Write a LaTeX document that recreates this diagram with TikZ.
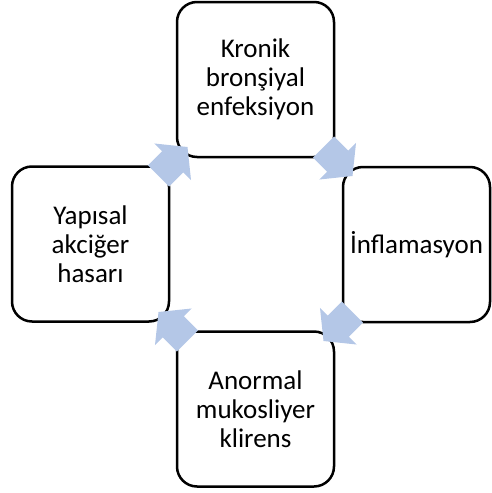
\documentclass[tikz,border=0pt]{standalone}
\usepackage{fontspec}
\setmainfont{Carlito}
\definecolor{arrowblue}{RGB}{180,199,231}
\begin{document}
\begin{tikzpicture}[x=1pt,y=-1pt,
  box/.style={draw=black, line width=2.5pt, rounded corners=20pt, fill=white,
    minimum width=157pt, minimum height=155pt, align=center, inner sep=0pt,
    font=\fontsize{27}{29}\selectfont},
  cyclearrow/.pic={\fill[arrowblue] (-20.5,15) -- (-0.5,15) -- (-0.5,26) -- (20.5,0)
      -- (-0.5,-26) -- (-0.5,-15) -- (-20.5,-15) -- cycle;}]
\useasboundingbox (0,0) rectangle (491,493);
\node[box] (top) at (255.5,79.5) {Kronik\\bronşiyal\\enfeksiyon};
\node[box, minimum width=147pt] (right) at (416.5,244.5) {İnflamasyon};
\node[box] (bottom) at (255.5,409) {Anormal\\mukosliyer\\klirens};
\node[box] (left) at (90.5,244) {Yapısal\\akciğer\\hasarı};
\path (173,161.5) pic[rotate=45] {cyclearrow};
\path (338,161.5) pic[rotate=-45] {cyclearrow};
\path (338,326.5) pic[rotate=-135] {cyclearrow};
\path (173,326.5) pic[rotate=135] {cyclearrow};
\end{tikzpicture}
\end{document}
